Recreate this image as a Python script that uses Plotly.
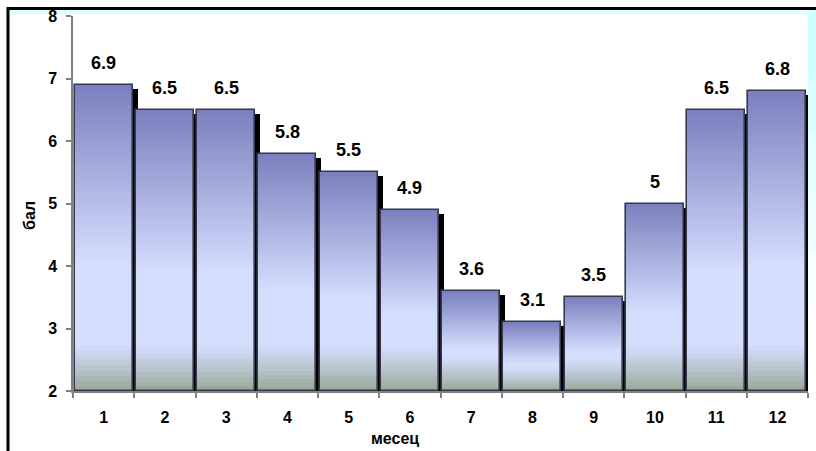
import plotly.graph_objects as go

# Monthly scores (бал) by month (месец)
months = ["1", "2", "3", "4", "5", "6", "7", "8", "9", "10", "11", "12"]
scores = [6.9, 6.5, 6.5, 5.8, 5.5, 4.9, 3.6, 3.1, 3.5, 5.0, 6.5, 6.8]
y_ticks = [2, 3, 4, 5, 6, 7, 8]

Y_MIN, Y_MAX = 2, 8
BAR_W = 0.947
SHADOW_DX = 0.08      # shadow offset to the right, in category units
SHADOW_DY = 0.065     # shadow top sits a little below the bar top
N_SLICES = 60         # vertical slices used to paint the gradient fill

DARK = (122, 128, 190)
LIGHT = (212, 222, 253)
GREEN = (150, 167, 148)
FONT = "Arial, Liberation Sans, sans-serif"


def mix(c1, c2, t):
    t = max(0.0, min(1.0, t))
    return tuple(a + (b - a) * t for a, b in zip(c1, c2))


def slice_color(v, ys):
    h = v - Y_MIN
    d = v - ys
    c = mix(DARK, LIGHT, d / (0.58 * h))
    z = ys - Y_MIN
    zg = min(0.75, 0.35 * h)
    g = 1 - z / zg
    c = mix(c, GREEN, g ** 1.2 if g > 0 else 0)
    return "rgb(%d,%d,%d)" % tuple(round(x) for x in c)


fig = go.Figure()

# drop shadow behind each bar
fig.add_trace(go.Bar(
    x=months, y=[v - Y_MIN - SHADOW_DY for v in scores], base=Y_MIN,
    width=BAR_W, offset=-BAR_W / 2 + SHADOW_DX,
    marker=dict(color="black", line=dict(width=0)),
    hoverinfo="skip", showlegend=False,
))

# gradient fill built from thin stacked slices
for k in range(N_SLICES):
    bases, heights, colors = [], [], []
    for v in scores:
        h = v - Y_MIN
        step = h / N_SLICES
        b = Y_MIN + k * step
        top = min(v, b + step * 1.6)
        bases.append(b)
        heights.append(top - b)
        colors.append(slice_color(v, b + step / 2))
    fig.add_trace(go.Bar(
        x=months, y=heights, base=bases,
        width=BAR_W, offset=-BAR_W / 2,
        marker=dict(color=colors, line=dict(width=0)),
        hoverinfo="skip", showlegend=False,
    ))

# bar outlines
fig.add_trace(go.Bar(
    x=months, y=[v - Y_MIN for v in scores], base=Y_MIN,
    width=BAR_W, offset=-BAR_W / 2,
    marker=dict(color="rgba(0,0,0,0)", line=dict(color="rgb(55,55,78)", width=1.6)),
    hoverinfo="skip", showlegend=False,
))

# value labels above the bars (category positions are 0-based indices)
for i, v in enumerate(scores):
    fig.add_annotation(
        x=i, y=v, xref="x", yref="y", text=f"{v:g}", showarrow=False,
        xanchor="center", yanchor="middle", yshift=22,
        font=dict(family=FONT, size=18, color="black", weight="bold"),
    )

# axis titles
fig.add_annotation(
    x=0.438, y=-0.1275, xref="paper", yref="paper", text="месец", showarrow=False,
    xanchor="center", yanchor="middle",
    font=dict(family=FONT, size=16, color="black", weight="bold"),
)
fig.add_annotation(
    x=-0.0585, y=0.467, xref="paper", yref="paper", text="бал", showarrow=False,
    xanchor="center", yanchor="middle", textangle=-90,
    font=dict(family=FONT, size=16, color="black", weight="bold"),
)


def px_x(px):
    return (px - 73) / 735


def px_y(py):
    return (391 - py) / 377


# page frame and the light cyan strip on the right
shapes = []
for i, op in enumerate([0.9, 0.7, 0.5, 0.3, 0.15]):
    y0 = 12 + i * 60
    shapes.append(dict(type="rect", xref="paper", yref="paper",
                       x0=px_x(808), x1=px_x(817), y0=px_y(y0 + 60), y1=px_y(y0),
                       fillcolor="rgb(200,255,255)", opacity=op, line=dict(width=0),
                       layer="below"))
shapes.append(dict(type="rect", xref="paper", yref="paper",
                   x0=px_x(7), x1=px_x(817), y0=px_y(12), y1=px_y(8),
                   fillcolor="rgb(220,255,255)", line=dict(width=0), layer="below"))
shapes.append(dict(type="line", xref="paper", yref="paper",
                   x0=px_x(7), x1=px_x(817), y0=px_y(6.5), y1=px_y(6.5),
                   line=dict(color="black", width=3)))
shapes.append(dict(type="line", xref="paper", yref="paper",
                   x0=px_x(8), x1=px_x(8), y0=px_y(5), y1=px_y(452),
                   line=dict(color="black", width=3)))

fig.update_layout(
    width=816, height=451,
    margin=dict(l=73, r=8, t=14, b=60),
    paper_bgcolor="white", plot_bgcolor="white",
    barmode="overlay", bargap=0,
    shapes=shapes,
    showlegend=False,
    xaxis=dict(
        type="category", range=[-0.5, 11.5], tickson="boundaries",
        ticks="outside", ticklen=5, tickcolor="rgb(128,128,128)", tickwidth=1.5,
        showline=True, linecolor="rgb(128,128,128)", linewidth=1.5,
        showgrid=False, zeroline=False, ticklabelstandoff=11,
        tickfont=dict(family=FONT, size=16, color="black", weight="bold"),
    ),
    yaxis=dict(
        range=[Y_MIN, Y_MAX], tickvals=y_ticks,
        ticks="outside", ticklen=5, tickcolor="rgb(128,128,128)", tickwidth=1.5,
        showline=True, linecolor="rgb(128,128,128)", linewidth=1.5,
        showgrid=False, zeroline=False, ticklabelstandoff=6,
        tickfont=dict(family=FONT, size=16, color="black", weight="bold"),
    ),
)

fig.write_html("out.html")
